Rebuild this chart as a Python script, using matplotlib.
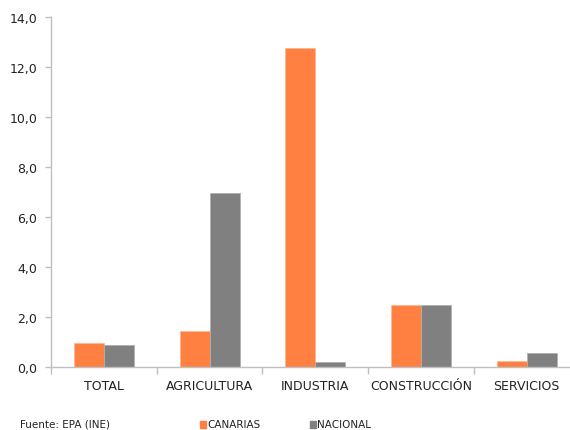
import matplotlib
matplotlib.use("Agg")
import matplotlib.pyplot as plt
from matplotlib.patches import Rectangle
import numpy as np

categories = ["TOTAL", "AGRICULTURA", "INDUSTRIA", "CONSTRUCCIÓN", "SERVICIOS"]
canarias = [0.98, 1.45, 12.76, 2.49, 0.24]
nacional = [0.87, 6.96, 0.21, 2.47, 0.55]
yticks = [0, 2, 4, 6, 8, 10, 12, 14]
series_names = ["CANARIAS", "NACIONAL"]
source = "Fuente: EPA (INE)"

ORANGE = "#FF8040"
GRAY = "#808080"
SPINE = "#BFBFBF"

plt.rcParams['font.family'] = ['DejaVu Sans']
fig = plt.figure(figsize=(5.70, 4.31), dpi=100)
W, H = 570, 431
ax = fig.add_axes([51 / W, 63 / H, 528.5 / W, 350 / H])

x = np.arange(len(categories))
bw = 0.284
ax.bar(x - bw / 2, canarias, width=bw, color=ORANGE, edgecolor="#FFB890", linewidth=0.6)
ax.bar(x + bw / 2, nacional, width=bw, color=GRAY, edgecolor="#B0B0B0", linewidth=0.6)

ax.set_xlim(-0.5, len(categories) - 0.5)
ax.set_ylim(0, 14)
ax.set_yticks(yticks)
ax.set_yticklabels([f"{v:.1f}".replace(".", ",") for v in yticks], fontsize=9, color="#222222")
ax.set_xticks(np.arange(len(categories) + 1) - 0.5, minor=False)
ax.set_xticklabels([])
ax.set_xticks(x, minor=True)
ax.set_xticklabels(categories, minor=True, fontsize=9, color="#222222")
ax.tick_params(axis="x", which="minor", length=0, pad=9)
ax.tick_params(axis="x", which="major", length=5, color=SPINE, width=1)
ax.tick_params(axis="y", length=4, color=SPINE, width=1, pad=6)

for s in ["top", "right"]:
    ax.spines[s].set_visible(False)
for s in ["left", "bottom"]:
    ax.spines[s].set_color(SPINE)
    ax.spines[s].set_linewidth(1)

fig.text(20 / W, 1 - 425 / H, source, fontsize=7.5, va="center", ha="left", color="#222222")
# legend
lx = [205, 315]
cols = [ORANGE, GRAY]
for px, c, name in zip(lx, cols, series_names):
    fig.patches.append(Rectangle(((px - 5) / W, 1 - 429 / H), 6 / W, 7 / H,
                                 transform=fig.transFigure, color=c))
    fig.text((px + 2) / W, 1 - 425 / H, name, fontsize=7.5, va="center", ha="left", color="#222222")

fig.savefig("out.png", dpi=100)
